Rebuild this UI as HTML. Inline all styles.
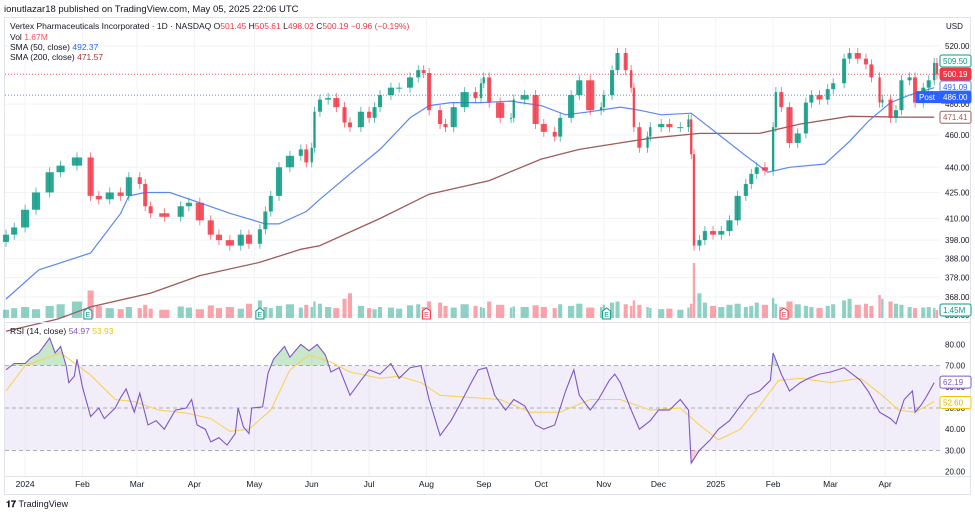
<!DOCTYPE html>
<html><head><meta charset="utf-8">
<style>
body{margin:0;background:#fff;font-family:"Liberation Sans",sans-serif;}
#wrap{position:relative;width:975px;height:514px;overflow:hidden;}
svg text{font-family:"Liberation Sans",sans-serif;}
</style></head>
<body>
<div id="wrap">
<svg id="svg" width="975" height="514" viewBox="0 0 975 514">
<text x="4" y="12" font-size="9.5" fill="#131722">ionutlazar18 published on TradingView.com, May 05, 2025 22:06 UTC</text>
<rect x="4.5" y="17.5" width="966" height="477" fill="none" stroke="#e0e3eb"/>
<g id="grid"></g>
<g id="volg"></g>
<g id="priceg"></g>
<g id="rsig"></g>
<g id="axisg"></g>
<text x="10" y="29" font-size="8.5" fill="#131722">Vertex Pharmaceuticals Incorporated · 1D · NASDAQ <tspan fill="#131722">O</tspan><tspan fill="#f23645">501.45</tspan> <tspan fill="#131722">H</tspan><tspan fill="#f23645">505.61</tspan> <tspan fill="#131722">L</tspan><tspan fill="#f23645">498.02</tspan> <tspan fill="#131722">C</tspan><tspan fill="#f23645">500.19 −0.96 (−0.19%)</tspan></text>
<text x="10" y="40" font-size="8.5" fill="#131722">Vol <tspan fill="#f7525f">1.67M</tspan></text>
<text x="10" y="50" font-size="8.5" fill="#131722">SMA (50, close) <tspan fill="#2962ff">492.37</tspan></text>
<text x="10" y="60" font-size="8.5" fill="#131722">SMA (200, close) <tspan fill="#a0363b">471.57</tspan></text>
<text x="10" y="334" font-size="8.5" fill="#131722">RSI (14, close) <tspan fill="#7e57c2">54.97</tspan> <tspan fill="#f5c400">53.93</tspan></text>
<text x="946" y="29" font-size="8" fill="#131722">USD</text>
<text x="6" y="507" font-size="9" font-weight="bold" fill="#131722">𝟏𝟕 <tspan font-weight="normal">TradingView</tspan></text>
</svg>
</div>
<script>
// ---- data ----
const days=[0,3,7,11,16,20,26,31,34,38,42,45,49,51,53,58,64,67,71,75,78,82,86,89,93,95,97,100,104,108,110,112,113,115,118,121,124,126,130,133,135,137,141,144,148,151,153,155,159,161,164,168,172,174,175,177,181,185,186,190,194,197,201,203,207,210,214,218,219,222,224,227,229,230,232,235,236,240,243,247,250,251,252,254,256,259,262,265,268,271,273,275,278,281,282,284,287,290,293,295,298,301,303,307,309,312,315,317,320,321,324,326,328,331,333,336,338,340,341];
const closes=[401,405,415,425,437,441,446,423,421,425,423,434,430,417,413,411,417,419,409,401,398,395,401,396,404,414,423,440,447,451,443,452,475,483,484,478,468,465,475,471,478,486,491,491,498,503,501,476,467,465,478,488,484,494,498,481,471,471,483,486,467,462,459,471,486,496,476,478,486,503,515,503,491,465,452,459,465,467,465,465,470,448,395,398,403,401,403,409,423,430,436,440,438,465,488,478,455,461,481,486,483,490,494,511,515,511,507,498,481,483,471,476,496,498,481,491,496,508,500];
const volumes=[1.5,1.8,2.0,1.6,2.2,2.5,3.0,5.0,2.2,1.8,1.6,2.0,1.8,2.4,1.7,1.5,2.1,1.9,1.6,2.3,1.8,2.0,1.7,2.6,3.2,2.0,1.8,2.2,2.5,1.9,2.4,2.0,3.0,2.6,2.0,1.8,3.5,4.5,2.2,1.8,1.6,2.0,1.9,1.7,2.3,2.5,2.0,3.0,2.8,2.2,1.9,2.5,2.2,2.0,1.8,3.0,2.4,1.9,2.1,2.0,2.3,2.0,1.8,2.5,2.2,2.6,1.9,2.0,2.4,2.8,3.0,2.5,2.2,3.2,2.4,2.0,1.8,1.6,1.7,1.5,1.9,2.6,10.0,4.5,2.8,2.2,2.0,2.4,2.6,2.0,2.2,2.8,2.4,3.6,2.6,2.0,3.0,2.5,2.2,2.0,1.8,2.2,2.5,3.2,3.5,2.4,2.6,2.2,4.2,3.5,3.0,2.6,2.4,2.0,1.8,1.9,2.0,1.8,1.45];
const sma50Days=[0,12,31,42,45,51,60,71,82,95,100,110,115,126,137,148,155,163,174,185,196,205,214,225,232,240,251,262,271,279,287,300,309,316,324,331,340];
const sma50Vals=[367,382,391,413,423,425,425,419,413,407,407,414,421,436,451,471,479,481,481,482,479,473,475,478,476,473,474,459,447,437,440,442,456,469,481,486,491];
const sma200Days=[0,19,31,53,71,93,108,115,137,155,177,196,210,225,236,254,276,291,309,327,340];
const sma200Vals=[351,357,363,370,379,386,393,395,410,424,432,445,451,455,458,461,461,467,472,471.5,471.4];
const rsiDays=[0,3,7,9,12,16,18,20,22,23,25,26,28,31,34,36,40,42,44,47,49,52,55,58,62,66,68,70,73,75,78,81,84,85,87,89,90,94,96,98,102,104,108,111,114,117,119,122,126,130,133,137,141,144,148,152,155,159,163,166,170,173,176,179,183,186,190,194,197,201,205,208,210,214,217,221,223,225,229,232,236,239,243,247,250,251,254,258,261,265,269,272,276,280,281,284,287,291,294,298,302,307,310,313,316,320,324,326,329,332,333,335,337,340];
const rsiVals=[68,71,71,73.6,76,83,76,79,70,62,65,73,60,46,50,45,50,55,59,48,57,42,44,40,49,50,54,42,40,34,36,32.5,38,50,41,38,50,50.5,66.5,73,79,74,80,77,80,75,67,69,56,63,68,66,71,64,69,70,54,37,44,51,61,68,69,56,49,54,51,42,40,42,58,68,56,49,54,63,66,62,49,40,44,49,49,54,49,24,30,35,40,44,51,56,58,63,76,66,58,62,64,66,67,69,66,63,57.5,48,45,42.5,54,58,48,51,55,62];
const rsiMaDays=[0,7,20,31,40,47,56,66,75,82,89,97,104,111,119,126,137,144,152,159,170,181,192,203,214,225,236,247,254,261,269,276,283,291,302,313,320,327,333,340];
const rsiMaVals=[58,70,76,65.5,54,53,49,47.6,45,39,40,49,68,75,71.7,67,64,65,62,56,55,54,48,48,54,54,49,50,42,35,40,51,63,64,62,64,57,49,48,53];
const priceTicks=[520,480,460,440,425,410,398,388,378,368,359];
const rsiTicks=[80,70,60,50,40,30,20];
const monthLabels=["2024","Feb","Mar","Apr","May","Jun","Jul","Aug","Sep","Oct","Nov","Dec","2025","Feb","Mar","Apr"];
const monthDays=[7,28,48,69,91,112,133,154,175,196,219,239,260,281,302,322];
const earnDays=[30,93,154,220,285];
const earnBeat=[true,true,false,true,false];
// ---- scales ----
const NS='http://www.w3.org/2000/svg';
const X=d=>6+d*2.73;
const PY=p=>46+(Math.log(520)-Math.log(p))*726;
const RY=v=>408-(v-50)*2.12;
const VB=318, VY=v=>VB-v*5.5;
function mk(tag,attrs,parent){const e=document.createElementNS(NS,tag);for(const k in attrs)e.setAttribute(k,attrs[k]);parent.appendChild(e);return e;}
const grid=document.getElementById('grid'),volg=document.getElementById('volg'),pg=document.getElementById('priceg'),rg=document.getElementById('rsig'),ax=document.getElementById('axisg');
priceTicks.forEach(t=>{const l=mk('line',{x1:5,x2:940,y1:PY(t),y2:PY(t),stroke:'#f2f3f6'},grid);


const tx=mk('text',{x:945,y:PY(t)+3,'font-size':8,fill:'#131722'},ax);tx.textContent=t.toFixed(2);

});
monthDays.forEach((d,i)=>{const l=mk('line',{x1:X(d),x2:X(d),y1:18,y2:476,stroke:'#f2f3f6'},grid);


const tx=mk('text',{x:X(d),y:487,'font-size':8.5,fill:'#131722','text-anchor':'middle'},ax);tx.textContent=monthLabels[i];

});
rsiTicks.forEach(t=>{const tx=mk('text',{x:945,y:RY(t)+3,'font-size':8,fill:'#131722'},ax);tx.textContent=t.toFixed(2);

});
const sep=mk('line',{x1:5,x2:970,y1:322.5,y2:322.5,stroke:'#e0e3eb'},ax);


const sep2=mk('line',{x1:5,x2:970,y1:476.5,y2:476.5,stroke:'#e0e3eb'},ax);


function slotW(i){const prev=i>0?days[i]-days[i-1]:3;const next=i<days.length-1?days[i+1]-days[i]:3;return Math.max(2.4,Math.min(prev,next)*2.73*0.75);}
// volume
days.forEach((d,i)=>{const up=i===0?true:closes[i]>=closes[i-1];const w=slotW(i);
const r=mk('rect',{x:X(d)-w/2,y:VY(volumes[i]),width:w,height:VB-VY(volumes[i]),fill:up?'rgba(8,153,129,0.45)':'rgba(242,54,69,0.45)'},volg);

});
const hl1=mk('line',{x1:5,x2:940,y1:PY(500.19),y2:PY(500.19),stroke:'#f23645','stroke-dasharray':'1 2','stroke-width':0.8},pg);


const hl2=mk('line',{x1:5,x2:940,y1:PY(486),y2:PY(486),stroke:'#2962ff','stroke-dasharray':'1 2','stroke-width':0.8},pg);


function poly(ds,vs,yf){return ds.map((d,i)=>X(d).toFixed(1)+','+yf(vs[i]).toFixed(1)).join(' ');}
const s200=mk('polyline',{points:poly(sma200Days,sma200Vals,PY),fill:'none',stroke:'#a05a5a','stroke-width':1.3},pg);


const s50=mk('polyline',{points:poly(sma50Days,sma50Vals,PY),fill:'none',stroke:'#5b87f5','stroke-width':1.2},pg);


// candles
days.forEach((d,i)=>{const o=i===0?closes[0]-4:closes[i-1],c=closes[i];const up=c>=o;
const y1=PY(Math.max(o,c)),y2=PY(Math.min(o,c));const col=up?'#089981':'#f23645';const bw=slotW(i);
const w=mk('line',{x1:X(d),x2:X(d),y1:y1-5,y2:y2+5,stroke:col,'stroke-width':0.8,'stroke-opacity':0.8},pg);


const r=mk('rect',{x:X(d)-bw/2,y:y1,width:bw,height:Math.max(1,y2-y1),fill:col,'fill-opacity':0.85},pg);

});
earnDays.forEach((d,i)=>{const col=earnBeat[i]?'#089981':'#f23645';const g=mk('g',{},pg);


const x=X(d);mk('path',{d:`M${x-4},319 L${x-4},311 L${x},308 L${x+4},311 L${x+4},319 Z`,fill:'#fff',stroke:col,'stroke-width':1},g);
const t=mk('text',{x:x,y:317,'font-size':7,fill:col,'text-anchor':'middle'},g);t.textContent='E';});
// rsi pane
const band=mk('rect',{x:5,y:RY(70),width:935,height:RY(30)-RY(70),fill:'rgba(126,87,194,0.1)'},rg);


[70,50,30].forEach(v=>{const l=mk('line',{x1:5,x2:940,y1:RY(v),y2:RY(v),stroke:'#9598a1','stroke-dasharray':'4 3','stroke-width':0.8},rg);

});
const defs=mk('defs',{},rg);
const cp=mk('clipPath',{id:'ob'},defs);mk('rect',{x:0,y:0,width:975,height:RY(70)},cp);
const cp2=mk('clipPath',{id:'os'},defs);mk('rect',{x:0,y:RY(30),width:975,height:100},cp2);
const pts=poly(rsiDays,rsiVals,RY);
const ob=mk('polygon',{points:X(rsiDays[0])+','+RY(70)+' '+pts+' '+X(rsiDays[rsiDays.length-1])+','+RY(70),fill:'rgba(76,175,80,0.3)','clip-path':'url(#ob)'},rg);


const os=mk('polygon',{points:X(rsiDays[0])+','+RY(30)+' '+pts+' '+X(rsiDays[rsiDays.length-1])+','+RY(30),fill:'rgba(242,54,69,0.25)','clip-path':'url(#os)'},rg);


const rma=mk('polyline',{points:poly(rsiMaDays,rsiMaVals,RY),fill:'none',stroke:'#f7d25a','stroke-width':1.1},rg);


const rl=mk('polyline',{points:pts,fill:'none',stroke:'#7e57c2','stroke-width':1.1},rg);


function tag(y,txt,fill,stroke,tcol,name){const g=mk('g',{},ax);


mk('rect',{x:940,y:y-6,width:31,height:12,rx:2,fill:fill,stroke:stroke},g);
const t=mk('text',{x:943,y:y+3,'font-size':8,fill:tcol},g);t.textContent=txt;}
tag(61,'509.50','#fff','#089981','#089981','high-label');
tag(PY(500.19),'500.19','#f23645','#f23645','#fff','last-price-label');
tag(87,'491.09','#fff','#5b87f5','#2962ff','sma50-label');
tag(PY(486)+2,'486.00','#2962ff','#2962ff','#fff','post-price-label');
tag(PY(471.41),'471.41','#fff','#a05a5a','#a05a5a','sma200-label');
tag(310,'1.45M','#fff','#089981','#089981','volume-label');
tag(RY(62.19),'62.19','#fff','#7e57c2','#7e57c2','rsi-value-label');
tag(RY(52.6),'52.60','#fff','#f5c400','#e0b000','rsi-ma-value-label');
const pb=mk('rect',{x:916,y:PY(486)-4,width:24,height:12,fill:'#2962ff'},ax);


const pt=mk('text',{x:919,y:PY(486)+5,'font-size':8,fill:'#fff'},ax);pt.textContent='Post';


</script>
</body></html>
